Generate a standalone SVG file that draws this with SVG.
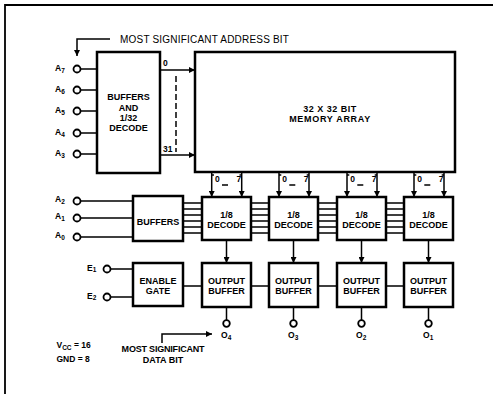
<svg xmlns="http://www.w3.org/2000/svg" width="498" height="394" viewBox="0 0 498 394">
<style>
.box{fill:#fff;stroke:#000;stroke-width:2.5}
.ln{fill:none;stroke:#000;stroke-width:1.5}
.pin{fill:#fff;stroke:#000;stroke-width:1.8}
.t{font-family:"Liberation Sans",Arial,sans-serif;font-weight:bold;font-size:9px;fill:#000;text-anchor:middle}
.l{font-family:"Liberation Sans",Arial,sans-serif;font-weight:bold;font-size:8.5px;fill:#000}
.s{font-size:6.5px}
</style>
<defs>
<marker id="ar" viewBox="0 0 10 10" refX="10" refY="5" markerWidth="6" markerHeight="6" markerUnits="userSpaceOnUse" orient="auto">
<path d="M0,0 L10,5 L0,10 z" fill="#000"/>
</marker>
</defs>
<rect width="498" height="394" fill="#fff"/>
<!-- frame -->
<path d="M5,394 V5 H493" fill="none" stroke="#000" stroke-width="1.8"/>

<g id="connectors">
<!-- MSB address arrow -->
<path class="ln" d="M110,39 H77 V56" marker-end="url(#ar)"/>
<!-- address pins to 1/32 decode -->
<path class="ln" d="M80.5,69 H97 M80.5,90 H97 M80.5,111 H97 M80.5,133 H97 M80.5,154 H97"/>
<!-- row lines -->
<path class="ln" d="M160,70 H195" marker-end="url(#ar)"/>
<path class="ln" d="M160,155 H195" marker-end="url(#ar)"/>
<path class="ln" d="M176,76 V152" stroke-dasharray="6,3"/>
<!-- A2..A0 to buffers -->
<path class="ln" d="M80.5,201 H133 M80.5,218 H133 M80.5,237 H133"/>
<!-- E1,E2 to enable gate -->
<path class="ln" d="M110.5,269 H133 M110.5,297 H133"/>
<!-- buses -->
<path class="ln" stroke-width="1.3" d="M183,203 H202 M183,209 H202 M183,215 H202 M183,221 H202 M183,227 H202 M183,233 H202"/>
<path class="ln" stroke-width="1.3" d="M251,203 H269 M251,209 H269 M251,215 H269 M251,221 H269 M251,227 H269 M251,233 H269"/>
<path class="ln" stroke-width="1.3" d="M318,203 H337 M318,209 H337 M318,215 H337 M318,221 H337 M318,227 H337 M318,233 H337"/>
<path class="ln" stroke-width="1.3" d="M386,203 H404 M386,209 H404 M386,215 H404 M386,221 H404 M386,227 H404 M386,233 H404"/>
<!-- column selects 0..7 -->
<g>
<path class="ln" d="M211.7,172 V197" marker-end="url(#ar)"/>
<path class="ln" d="M241.7,172 V197" marker-end="url(#ar)"/>
<path class="ln" d="M211.7,175 H214 M241.7,175 H239.5 M222,185 H228"/>
<path class="ln" d="M279,172 V197" marker-end="url(#ar)"/>
<path class="ln" d="M309,172 V197" marker-end="url(#ar)"/>
<path class="ln" d="M279,175 H281.3 M309,175 H306.7 M289.3,185 H295.3"/>
<path class="ln" d="M347,172 V197" marker-end="url(#ar)"/>
<path class="ln" d="M377,172 V197" marker-end="url(#ar)"/>
<path class="ln" d="M347,175 H349.3 M377,175 H374.7 M357.3,185 H363.3"/>
<path class="ln" d="M414,172 V197" marker-end="url(#ar)"/>
<path class="ln" d="M444,172 V197" marker-end="url(#ar)"/>
<path class="ln" d="M414,175 H416.3 M444,175 H441.7 M424.3,185 H430.3"/>
</g>
<!-- decode to output buffer -->
<path class="ln" d="M226.5,240 V263" marker-end="url(#ar)"/>
<path class="ln" d="M293.5,240 V263" marker-end="url(#ar)"/>
<path class="ln" d="M361.5,240 V263" marker-end="url(#ar)"/>
<path class="ln" d="M428.5,240 V263" marker-end="url(#ar)"/>
<!-- enable line -->
<path class="ln" d="M183,286 H202 M251,286 H269 M318,286 H337 M386,286 H404"/>
<!-- outputs -->
<path class="ln" d="M226.5,307 V320 M293.5,307 V320 M361.5,307 V320 M428.5,307 V320"/>
<!-- MSB data arrow -->
<path class="ln" d="M162,343 V334 H212" marker-end="url(#ar)"/>
</g>

<g id="pins">
<circle class="pin" cx="77" cy="69" r="3.5"/>
<circle class="pin" cx="77" cy="90" r="3.5"/>
<circle class="pin" cx="77" cy="111" r="3.5"/>
<circle class="pin" cx="77" cy="133" r="3.5"/>
<circle class="pin" cx="77" cy="154" r="3.5"/>
<circle class="pin" cx="77" cy="201" r="3.5"/>
<circle class="pin" cx="77" cy="218" r="3.5"/>
<circle class="pin" cx="77" cy="237" r="3.5"/>
<circle class="pin" cx="107" cy="269" r="3.5"/>
<circle class="pin" cx="107" cy="297" r="3.5"/>
<circle class="pin" cx="226.5" cy="323.5" r="3.3"/>
<circle class="pin" cx="293.5" cy="323.5" r="3.3"/>
<circle class="pin" cx="361.5" cy="323.5" r="3.3"/>
<circle class="pin" cx="428.5" cy="323.5" r="3.3"/>
</g>

<g id="labels">
<text x="120" y="43" font-family="Liberation Sans,Arial,sans-serif" font-size="10" letter-spacing="0.2">MOST SIGNIFICANT ADDRESS BIT</text>
<text class="l" x="55" y="71">A<tspan class="s" dy="2">7</tspan></text>
<text class="l" x="55" y="92">A<tspan class="s" dy="2">6</tspan></text>
<text class="l" x="55" y="113">A<tspan class="s" dy="2">5</tspan></text>
<text class="l" x="55" y="135">A<tspan class="s" dy="2">4</tspan></text>
<text class="l" x="55" y="156">A<tspan class="s" dy="2">3</tspan></text>
<text class="l" x="55" y="202">A<tspan class="s" dy="2">2</tspan></text>
<text class="l" x="55" y="219">A<tspan class="s" dy="2">1</tspan></text>
<text class="l" x="55" y="238">A<tspan class="s" dy="2">0</tspan></text>
<text class="l" x="87" y="271">E<tspan class="s" dy="1">1</tspan></text>
<text class="l" x="87" y="299">E<tspan class="s" dy="1">2</tspan></text>
<text class="l" x="163" y="66">0</text>
<text class="l" x="163" y="152">31</text>
<g class="l" font-size="8">
<text x="215" y="182">0</text><text x="236.5" y="182">7</text>
<text x="282.3" y="182">0</text><text x="303.8" y="182">7</text>
<text x="350.3" y="182">0</text><text x="371.8" y="182">7</text>
<text x="417.3" y="182">0</text><text x="438.8" y="182">7</text>
</g>
<text class="l" x="221" y="338">O<tspan class="s" dy="2">4</tspan></text>
<text class="l" x="288" y="338">O<tspan class="s" dy="2">3</tspan></text>
<text class="l" x="356" y="338">O<tspan class="s" dy="2">2</tspan></text>
<text class="l" x="423" y="338">O<tspan class="s" dy="2">1</tspan></text>
<text class="l" x="56.5" y="348">V<tspan class="s" dy="2">CC</tspan><tspan dy="-2"> = 16</tspan></text>
<text class="l" x="56.5" y="362">GND = 8</text>
<text class="t" x="163" y="352" font-size="8.5" letter-spacing="-0.2">MOST SIGNIFICANT</text>
<text class="t" x="163" y="362.5" font-size="8.5">DATA BIT</text>
</g>

<g id="buf32">
<rect class="box" x="97" y="52" width="63" height="121"/>
<text class="t" x="128.5" y="100">BUFFERS</text>
<text class="t" x="128.5" y="110.5">AND</text>
<text class="t" x="128.5" y="120.5">1/32</text>
<text class="t" x="128.5" y="131">DECODE</text>
</g>

<g id="memory">
<rect class="box" x="195" y="52" width="260" height="120"/>
<text class="t" x="330" y="112" letter-spacing="0.5">32 X 32 BIT</text>
<text class="t" x="330" y="122" letter-spacing="0.7">MEMORY ARRAY</text>
</g>

<g id="buffers">
<rect class="box" x="133" y="196" width="50" height="45"/>
<text class="t" x="158" y="224.5">BUFFERS</text>
</g>

<g id="enable">
<rect class="box" x="133" y="263" width="50" height="43"/>
<text class="t" x="158" y="284">ENABLE</text>
<text class="t" x="158" y="294">GATE</text>
</g>

<g id="dec4">
<rect class="box" x="202" y="197" width="49" height="43"/>
<text class="t" x="226.5" y="217.5">1/8</text>
<text class="t" x="226.5" y="227.5">DECODE</text>
</g>
<g id="dec3">
<rect class="box" x="269" y="197" width="49" height="43"/>
<text class="t" x="293.5" y="217.5">1/8</text>
<text class="t" x="293.5" y="227.5">DECODE</text>
</g>
<g id="dec2">
<rect class="box" x="337" y="197" width="49" height="43"/>
<text class="t" x="361.5" y="217.5">1/8</text>
<text class="t" x="361.5" y="227.5">DECODE</text>
</g>
<g id="dec1">
<rect class="box" x="404" y="197" width="49" height="43"/>
<text class="t" x="428.5" y="217.5">1/8</text>
<text class="t" x="428.5" y="227.5">DECODE</text>
</g>

<g id="out4">
<rect class="box" x="202" y="263" width="49" height="44"/>
<text class="t" x="226.5" y="284">OUTPUT</text>
<text class="t" x="226.5" y="294">BUFFER</text>
</g>
<g id="out3">
<rect class="box" x="269" y="263" width="49" height="44"/>
<text class="t" x="293.5" y="284">OUTPUT</text>
<text class="t" x="293.5" y="294">BUFFER</text>
</g>
<g id="out2">
<rect class="box" x="337" y="263" width="49" height="44"/>
<text class="t" x="361.5" y="284">OUTPUT</text>
<text class="t" x="361.5" y="294">BUFFER</text>
</g>
<g id="out1">
<rect class="box" x="404" y="263" width="49" height="44"/>
<text class="t" x="428.5" y="284">OUTPUT</text>
<text class="t" x="428.5" y="294">BUFFER</text>
</g>
</svg>
